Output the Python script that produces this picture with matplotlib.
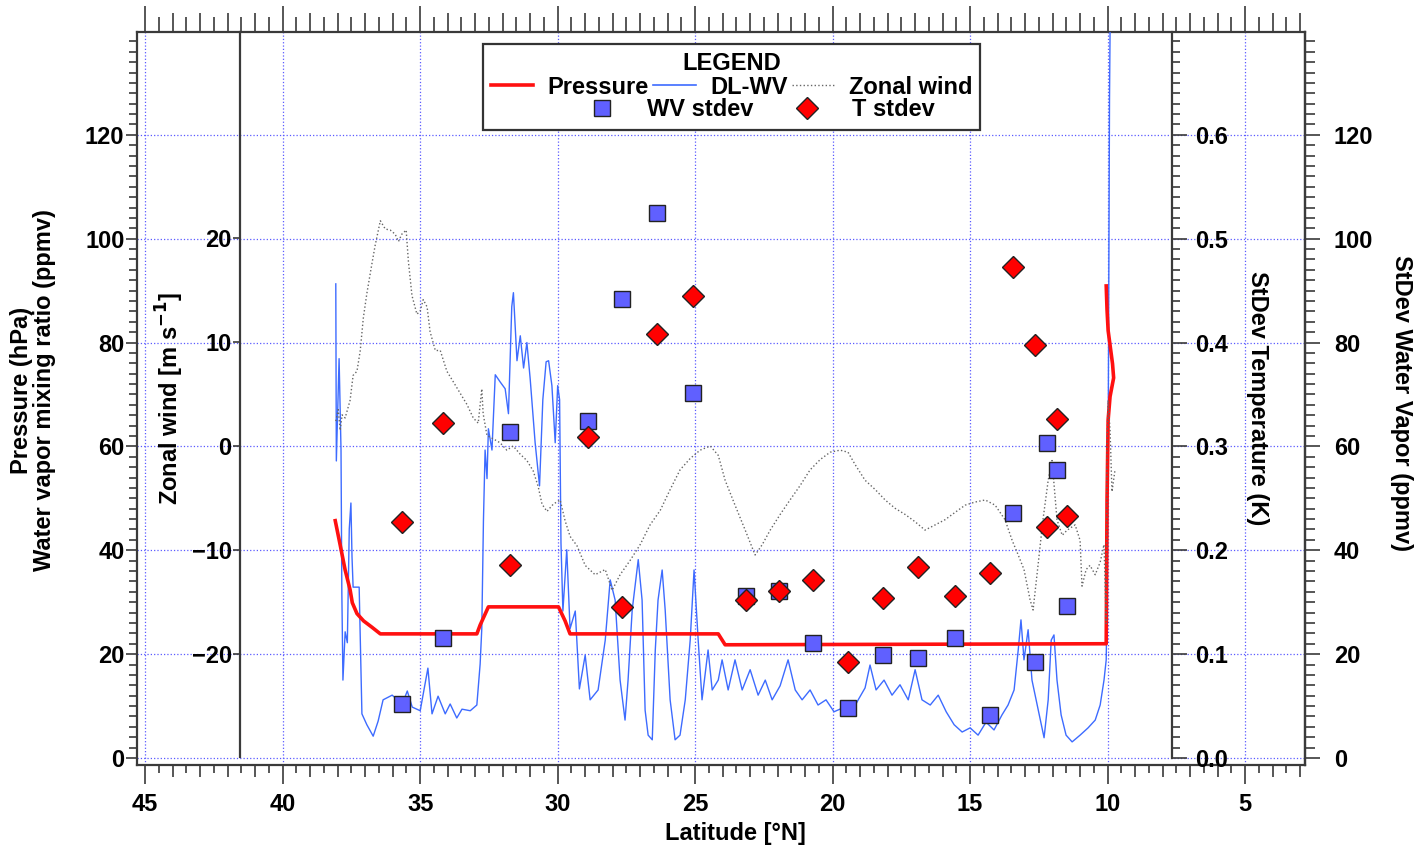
import matplotlib
matplotlib.use('Agg')
import matplotlib.pyplot as pyplot
import matplotlib.ticker as ticker
from matplotlib.lines import Line2D
import numpy


pyplot.rcParams['font.family'] = ['Liberation Sans', 'DejaVu Sans']
pyplot.rcParams['font.weight'] = 'bold'
pyplot.rcParams['axes.labelweight'] = 'bold'

FONT_SIZE = 17
SPINE_COLOUR = '#3a3a3a'
GRID_COLOUR = '#5a5aff'

# pressure (hPa) along the flight track
pressure_lat = [38.09, 37.91, 37.73, 37.55, 37.47, 37.30, 37.06, 36.76, 36.45,
                32.94, 32.82, 32.52, 29.97, 29.73, 29.55, 24.16, 23.91, 10.05,
                10.02, 9.98, 9.91, 9.78, 9.82, 9.98, 10.02, 10.05]
pressure_hpa = [45.7, 41.0, 36.2, 32.4, 29.9, 27.8, 26.4, 25.2, 23.9,
                23.9, 25.6, 29.1, 29.1, 26.4, 23.9, 23.9, 21.8, 22.0,
                49.7, 65.1, 69.6, 73.2, 75.9, 82.3, 86.3, 90.9]

# DL-WV water vapour mixing ratio (ppmv)
wv_lat = [38.07, 38.05, 37.95, 37.88, 37.85, 37.81, 37.73, 37.65, 37.58, 37.52,
          37.48, 37.44, 37.22, 37.16, 37.12, 36.94, 36.71, 36.53, 36.35, 36.02,
          35.65, 35.47, 35.29, 35.00, 34.72, 34.57, 34.35, 34.09, 33.91, 33.67,
          33.48, 33.18, 32.94, 32.82, 32.76, 32.70, 32.64, 32.57, 32.52, 32.39,
          32.27, 32.09, 31.91, 31.79, 31.67, 31.61, 31.48, 31.36, 31.24, 31.12,
          31.00, 30.82, 30.66, 30.54, 30.42, 30.33, 30.21, 30.09, 30.00, 29.93,
          29.88, 29.81, 29.67, 29.55, 29.36, 29.21, 29.00, 28.82, 28.53, 28.27,
          28.09, 27.91, 27.73, 27.55, 27.44, 27.29, 27.07, 26.93, 26.82, 26.71,
          26.56, 26.45, 26.35, 26.20, 26.09, 25.91, 25.73, 25.55, 25.36, 25.18,
          25.04, 24.89, 24.75, 24.53, 24.38, 24.16, 24.02, 23.80, 23.55, 23.29,
          23.00, 22.71, 22.45, 22.20, 21.91, 21.62, 21.36, 21.11, 20.82, 20.53,
          20.24, 19.95, 19.65, 19.36, 19.07, 18.82, 18.64, 18.42, 18.13, 17.84,
          17.55, 17.25, 17.00, 16.75, 16.45, 16.16, 15.87, 15.58, 15.29, 15.00,
          14.71, 14.42, 14.13, 13.84, 13.62, 13.40, 13.25, 13.15, 13.04, 12.89,
          12.75, 12.60, 12.45, 12.31, 12.16, 12.05, 11.95, 11.84, 11.69, 11.51,
          11.29, 11.00, 10.71, 10.45, 10.27, 10.13, 10.05, 10.02, 9.98, 9.96,
          9.95, 9.93, 9.91]
wv_ppmv = [91.3, 57.2, 76.9, 59.3, 31.8, 15.0, 24.3, 22.2, 44.1, 49.1,
           38.7, 32.9, 32.9, 18.1, 8.5, 6.4, 4.2, 7.1, 11.2, 12.1,
           10.4, 12.9, 9.8, 9.1, 17.3, 8.5, 11.9, 8.5, 10.4, 7.7,
           9.4, 9.1, 10.2, 18.1, 24.9, 45.7, 59.3, 53.8, 63.4, 59.3,
           73.8, 72.4, 71.1, 66.3, 86.9, 89.6, 76.5, 81.3, 75.1, 80.0,
           73.0, 60.7, 52.4, 69.0, 76.3, 76.5, 71.7, 60.7, 71.7, 69.0,
           41.4, 28.3, 40.1, 24.9, 28.3, 13.3, 19.8, 11.2, 13.1, 22.7,
           34.3, 30.4, 15.0, 7.3, 15.0, 28.5, 38.2, 30.4, 9.2, 4.4,
           3.5, 20.8, 30.4, 36.2, 28.5, 11.2, 3.5, 4.4, 11.2, 22.7,
           36.2, 22.7, 11.2, 20.8, 13.1, 15.0, 18.9, 13.1, 18.9, 13.1,
           17.0, 12.1, 15.0, 11.2, 13.9, 18.9, 13.1, 11.2, 13.1, 10.2,
           11.2, 8.9, 9.6, 8.3, 11.2, 13.5, 17.9, 13.1, 15.0, 12.1,
           14.1, 11.2, 17.0, 11.2, 10.2, 12.1, 8.9, 6.4, 5.0, 5.8,
           4.4, 6.9, 5.4, 8.3, 10.2, 13.1, 20.8, 26.6, 18.9, 24.7,
           15.0, 11.2, 7.3, 3.9, 11.2, 22.7, 23.7, 15.0, 8.3, 4.4,
           3.1, 4.4, 5.8, 7.3, 10.2, 15.0, 18.9, 30.4, 59.3, 88.2,
           107.5, 126.8, 139.9]

# zonal wind (m/s)
wind_lat = [38.07, 37.98, 37.91, 37.84, 37.73, 37.55, 37.44, 37.30, 37.18, 37.07,
            36.94, 36.76, 36.64, 36.45, 36.27, 36.09, 35.91, 35.79, 35.67, 35.51,
            35.43, 35.30, 35.12, 35.00, 34.89, 34.75, 34.64, 34.45, 34.27, 34.03,
            33.80, 33.55, 33.30, 33.07, 32.89, 32.76, 32.71, 32.57, 32.35, 32.09,
            31.85, 31.62, 31.36, 31.12, 30.89, 30.71, 30.57, 30.39, 30.16, 29.91,
            29.73, 29.55, 29.30, 29.00, 28.64, 28.27, 28.02, 27.73, 27.36, 27.00,
            26.64, 26.27, 25.91, 25.55, 25.18, 24.82, 24.45, 24.16, 23.91, 23.55,
            23.18, 22.82, 22.56, 22.27, 21.91, 21.55, 21.18, 20.82, 20.45, 20.09,
            19.73, 19.44, 19.18, 18.82, 18.45, 18.09, 17.73, 17.36, 17.00, 16.64,
            16.27, 15.91, 15.55, 15.18, 14.82, 14.45, 14.09, 13.73, 13.47, 13.25,
            13.04, 12.82, 12.71, 12.53, 12.35, 12.16, 12.02, 11.84, 11.65, 11.47,
            11.18, 11.00, 10.93, 10.78, 10.64, 10.45, 10.27, 10.13, 10.05, 10.02,
            9.98, 9.91, 9.84, 9.73]
wind_ms = [2.4, 3.5, 1.5, 3.0, 2.7, 4.4, 6.8, 7.2, 9.2, 12.3,
           14.7, 17.5, 19.3, 21.7, 20.9, 20.8, 20.4, 19.7, 20.4, 20.8,
           17.8, 14.5, 12.7, 13.0, 14.1, 13.4, 11.0, 9.2, 9.2, 7.2,
           6.2, 5.1, 4.0, 2.7, 2.2, 5.5, 3.1, 1.0, 0.7, 0.3,
           -0.4, 0.0, -0.8, -1.4, -2.4, -3.9, -5.6, -6.3, -5.6, -5.2,
           -7.2, -8.7, -9.6, -11.5, -12.4, -11.9, -13.9, -12.4, -11.0, -9.5,
           -7.6, -6.2, -4.2, -2.3, -1.2, -0.4, 0.0, -0.9, -3.3, -5.7,
           -8.1, -10.5, -9.5, -8.1, -6.6, -5.2, -3.8, -2.3, -1.3, -0.6,
           -0.4, -0.6, -1.8, -3.3, -4.2, -5.2, -6.0, -6.6, -7.3, -8.1,
           -7.6, -7.1, -6.4, -5.7, -5.4, -5.2, -5.7, -7.1, -9.1, -10.5,
           -11.9, -14.8, -15.8, -11.5, -7.1, -3.3, -1.4, -7.1, -8.6, -8.1,
           -7.6, -9.1, -13.5, -11.9, -11.5, -12.4, -11.2, -9.5, -17.1, 0.6,
           4.4, 1.5, -4.4, -2.3]

# standard deviations at the sonde points
stdev_lat = [35.65, 34.16, 31.73, 28.91, 27.65, 26.38, 25.07, 23.15, 21.96, 20.71,
             19.44, 18.16, 16.89, 15.55, 14.27, 13.44, 12.64, 12.20, 11.84, 11.47]
wv_stdev = [10.4, 23.1, 62.8, 64.9, 88.4, 105.0, 70.3, 31.2, 32.2, 22.2,
            9.6, 19.8, 19.3, 23.1, 8.3, 47.2, 18.5, 60.7, 55.5, 29.3]
t_stdev = [0.227, 0.323, 0.186, 0.309, 0.145, 0.408, 0.445, 0.152, 0.161, 0.171,
           0.092, 0.154, 0.184, 0.156, 0.178, 0.473, 0.398, 0.222, 0.326, 0.233]


def configure_spines(axes, visible):
    for name, spine in axes.spines.items():
        spine.set_visible(name in visible)
        spine.set_color(SPINE_COLOUR)
        spine.set_linewidth(1.6)


def configure_latitude_axis(axes, figure):
    axes.set_xlim(45.3, 2.82)
    axes.xaxis.set_major_locator(ticker.MultipleLocator(5))
    axes.xaxis.set_minor_locator(ticker.MultipleLocator(1))
    axes.tick_params(axis='x', which='major', length=14, width=1.2,
                     color=SPINE_COLOUR, labelsize=FONT_SIZE, pad=6)
    axes.tick_params(axis='x', which='minor', length=8.5, width=1.2,
                     color=SPINE_COLOUR)
    axes.xaxis.set_major_formatter(ticker.FormatStrFormatter('%d'))

    half_bottom = axes.secondary_xaxis('bottom')
    half_bottom.set_xticks(numpy.arange(3.5, 45.5, 1.0))
    half_bottom.tick_params(length=5.5, width=1.2, color=SPINE_COLOUR,
                            labelbottom=False)
    half_bottom.spines['bottom'].set_visible(False)

    top = axes.secondary_xaxis('top')
    top.xaxis.set_major_locator(ticker.MultipleLocator(5))
    top.xaxis.set_minor_locator(ticker.MultipleLocator(1))
    top.tick_params(which='major', length=19, width=1.2, color=SPINE_COLOUR,
                    labeltop=False)
    top.tick_params(which='minor', length=14, width=1.2, color=SPINE_COLOUR)
    top.spines['top'].set_visible(False)

    half_top = axes.secondary_xaxis('top')
    half_top.set_xticks(numpy.arange(3.5, 45.5, 1.0))
    half_top.tick_params(length=11, width=1.2, color=SPINE_COLOUR,
                         labeltop=False)
    half_top.spines['top'].set_visible(False)

    figure.text(735 / 1414, 1 - 833 / 846, 'Latitude [°N]', ha='center',
                va='center', fontsize=FONT_SIZE, fontweight='bold')


def configure_left_axis(axes, figure):
    axes.set_ylim(-1.35, 139.8)
    axes.set_yticks(numpy.arange(0, 121, 20))
    axes.yaxis.set_minor_locator(ticker.FixedLocator(numpy.arange(0, 139, 2)))
    axes.tick_params(axis='y', which='major', length=8, width=1.2,
                     color=SPINE_COLOUR, labelsize=FONT_SIZE, pad=1)
    axes.tick_params(axis='y', which='minor', length=5.5, width=1.2,
                     color=SPINE_COLOUR)
    axes.grid(which='major', color=GRID_COLOUR, linestyle=':', linewidth=0.9)
    figure.text(33 / 1414, 1 - 390 / 846,
                'Pressure (hPa)\nWater vapor mixing ratio (ppmv)',
                rotation=90, ha='center', va='center', fontsize=FONT_SIZE,
                fontweight='bold', linespacing=1.0, multialignment='center')


def configure_wind_axis(axes, figure):
    configure_spines(axes, ['left'])
    axes.set_ylim(-30.73, 39.88)
    axes.spines['left'].set_position(('axes', 103 / 1168))
    axes.spines['left'].set_bounds(-30, 39.88)
    axes.yaxis.set_ticks_position('left')
    axes.yaxis.set_label_position('left')
    axes.set_yticks(numpy.arange(-20, 21, 10))
    axes.tick_params(axis='y', which='major', length=5, width=1.2,
                     color=SPINE_COLOUR, labelsize=FONT_SIZE, pad=1)
    figure.text(170 / 1414, 1 - 398 / 846, 'Zonal wind [m s$^{-1}$]',
                rotation=90, ha='center', va='center', fontsize=FONT_SIZE,
                fontweight='bold')


def configure_temperature_axis(axes, figure):
    configure_spines(axes, ['right'])
    axes.set_ylim(-1.35 / 200, 139.8 / 200)
    axes.spines['right'].set_position(('axes', 1035 / 1168))
    axes.spines['right'].set_bounds(0, 139.8 / 200)
    axes.set_yticks(numpy.arange(0, 0.61, 0.1))
    axes.yaxis.set_minor_locator(ticker.FixedLocator(numpy.arange(0, 0.695, 0.01)))
    axes.yaxis.set_major_formatter(ticker.FormatStrFormatter('%.1f'))
    axes.tick_params(axis='y', which='major', length=10.8, width=1.2,
                     color=SPINE_COLOUR, labelsize=FONT_SIZE, pad=6)
    axes.tick_params(axis='y', which='minor', length=5.5, width=1.2,
                     color=SPINE_COLOUR)
    figure.text(1257 / 1414, 1 - 398 / 846, 'StDev Temperature (K)',
                rotation=270, ha='center', va='center', fontsize=FONT_SIZE,
                fontweight='bold')


def configure_stdev_wv_axis(axes, figure):
    configure_spines(axes, ['right'])
    axes.set_ylim(-1.35, 139.8)
    axes.set_yticks(numpy.arange(0, 121, 20))
    axes.yaxis.set_minor_locator(ticker.FixedLocator(numpy.arange(0, 139, 2)))
    axes.tick_params(axis='y', which='major', length=10.8, width=1.2,
                     color=SPINE_COLOUR, labelsize=FONT_SIZE, pad=10)
    axes.tick_params(axis='y', which='minor', length=7, width=1.2,
                     color=SPINE_COLOUR)
    figure.text(1402 / 1414, 1 - 403 / 846, 'StDev Water Vapor (ppmv)',
                rotation=270, ha='center', va='center', fontsize=FONT_SIZE,
                fontweight='bold')


def add_legend(axes, figure):
    pressure_handle = Line2D([], [], color='#ff1010', linewidth=2.6)
    wv_handle = Line2D([], [], color='#3d6bff', linewidth=1.2)
    wind_handle = Line2D([], [], color='#666666', linewidth=1.0, linestyle=':')
    blank = Line2D([], [], color='none')
    first_row = axes.legend(
        [pressure_handle, blank, wv_handle, blank, wind_handle, blank],
        ['Pressure', ' ', 'DL-WV', ' ', 'Zonal wind', ' '],
        ncol=3, title='LEGEND', loc='upper left',
        bbox_to_anchor=(483 / 1414, 1 - 44 / 846, 497 / 1414, 0.0),
        bbox_transform=figure.transFigure, mode='expand',
        fontsize=FONT_SIZE, title_fontsize=FONT_SIZE, frameon=True,
        fancybox=False, edgecolor='#333333', framealpha=1.0,
        handlelength=1.8, handletextpad=0.6, columnspacing=0.6,
        labelspacing=0.05, borderpad=0.32, borderaxespad=0.0)
    first_row.get_frame().set_linewidth(1.6)
    first_row.get_title().set_fontweight('bold')
    axes.add_artist(first_row)

    square_handle = Line2D([], [], color='none', marker='s', markersize=11,
                           markerfacecolor='#6060ff', markeredgecolor='#222222')
    diamond_handle = Line2D([], [], color='none', marker='D', markersize=11,
                            markerfacecolor='#ff0000', markeredgecolor='#222222')
    axes.legend(
        [square_handle, diamond_handle], ['WV stdev', 'T stdev'], ncol=2,
        loc='center', bbox_to_anchor=(760 / 1414, 1 - 110 / 846),
        bbox_transform=figure.transFigure, fontsize=FONT_SIZE, frameon=False,
        handlelength=1.4, handletextpad=1.2, columnspacing=1.6,
        borderpad=0.0)


figure = pyplot.figure(figsize=(14.14, 8.46), dpi=100)
axes = figure.add_axes([137 / 1414, 81 / 846, 1168 / 1414, 733 / 846])
configure_spines(axes, ['left', 'right', 'top', 'bottom'])

axes.plot(wv_lat, wv_ppmv, color='#3d6bff', linewidth=1.0, zorder=3)
axes.plot(pressure_lat, pressure_hpa, color='#ff1010', linewidth=2.6, zorder=4)
configure_latitude_axis(axes, figure)
configure_left_axis(axes, figure)

wind_axes = axes.twinx()
wind_axes.plot(wind_lat, wind_ms, color='#666666', linewidth=1.0,
               linestyle=':')
configure_wind_axis(wind_axes, figure)

stdev_wv_axes = axes.twinx()
stdev_wv_axes.plot(stdev_lat, wv_stdev, linestyle='none', marker='s',
                   markersize=11, markerfacecolor='#6060ff',
                   markeredgecolor='#222222', markeredgewidth=1.0)
configure_stdev_wv_axis(stdev_wv_axes, figure)

temperature_axes = axes.twinx()
temperature_axes.plot(stdev_lat, t_stdev, linestyle='none', marker='D',
                      markersize=11, markerfacecolor='#ff0000',
                      markeredgecolor='#222222', markeredgewidth=1.0)
configure_temperature_axis(temperature_axes, figure)
temperature_axes.set_xlim(45.3, 2.82)

add_legend(temperature_axes, figure)

pyplot.savefig('out.png', dpi=100)
